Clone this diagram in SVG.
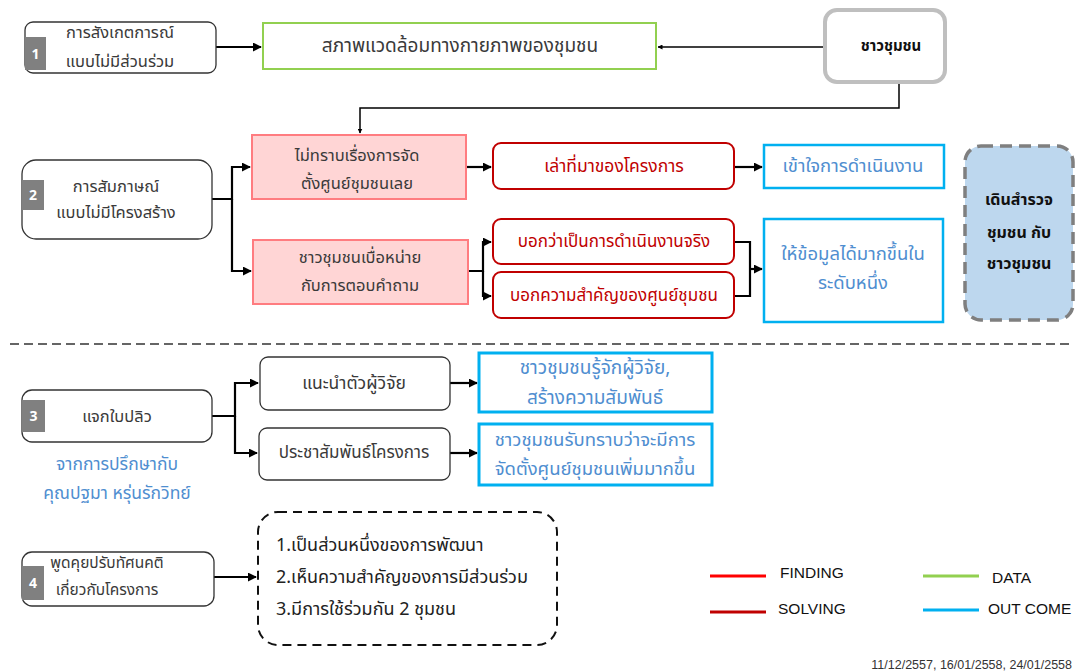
<svg xmlns="http://www.w3.org/2000/svg" width="1078" height="672" viewBox="0 0 1078 672">
<defs>
<marker id="ah" viewBox="0 0 10 10" refX="9" refY="5" markerWidth="5" markerHeight="5" orient="auto" markerUnits="userSpaceOnUse"><path d="M0,0 L10,5 L0,10 z" fill="#000"/></marker>
<marker id="ahb" viewBox="0 0 10 10" refX="9" refY="5" markerWidth="9" markerHeight="9" orient="auto" markerUnits="userSpaceOnUse"><path d="M0,0 L10,5 L0,10 z" fill="#000"/></marker>
<style>
text{font-family:"Noto Sans Thai","Tahoma","DejaVu Sans","Liberation Sans",sans-serif;font-size:16.5px;fill:#3a3a3a;text-anchor:middle;dominant-baseline:central}
.node{fill:#fff;stroke:#333;stroke-width:1.3}
.tab{fill:#808080}
.tabt{fill:#fff;font-weight:bold;font-size:14px}
.pink{fill:#ffd5d5;stroke:#ff7c80;stroke-width:2}
.red{fill:#fff;stroke:#c00000;stroke-width:2}
.redt{fill:#c00000}
.blue{fill:#fff;stroke:#00b0f0;stroke-width:2.5}
.bluet{fill:#4f8ed0;font-size:18.5px}
.c{fill:none;stroke:#000;stroke-width:2.2}
.ct{fill:none;stroke:#000;stroke-width:1.5}
.leg{font-family:"Liberation Sans",sans-serif;font-size:15.5px;fill:#111;text-anchor:start}
.bold{font-weight:bold;fill:#111;font-size:15px}
</style>
</defs>
<g id="connectors">
<path class="c" d="M216,47 H261" marker-end="url(#ahb)"/>
<path class="ct" d="M825,47 H658" marker-end="url(#ah)"/>
<path class="ct" d="M899,82 V108 H360 V133" marker-end="url(#ah)"/>
<path class="c" d="M212,199 H232 V167 H250" marker-end="url(#ahb)"/>
<path class="c" d="M232,199 V271 H251" marker-end="url(#ahb)"/>
<path class="c" d="M466,167 H491" marker-end="url(#ahb)"/>
<path class="c" d="M734,167 H762" marker-end="url(#ahb)"/>
<path class="c" d="M468,271 H483 V242 H491" marker-end="url(#ahb)"/>
<path class="c" d="M483,271 V296 H491" marker-end="url(#ahb)"/>
<path class="c" d="M734,242 H750 V296 H734"/>
<path class="c" d="M750,269 H762" marker-end="url(#ahb)"/>
<path class="c" d="M212,416 H235 V383 H258" marker-end="url(#ahb)"/>
<path class="c" d="M235,416 V453 H257" marker-end="url(#ahb)"/>
<path class="c" d="M450,383 H477" marker-end="url(#ahb)"/>
<path class="c" d="M450,453 H477" marker-end="url(#ahb)"/>
<path class="c" d="M214,577 H256" marker-end="url(#ahb)"/>
</g>
<line x1="10" y1="344" x2="1074" y2="344" stroke="#333" stroke-width="1.3" stroke-dasharray="9,5"/>
<g id="n1">
<rect class="node" x="25" y="22" width="191" height="51" rx="8"/>
<rect class="tab" x="25" y="37" width="21" height="33"/>
<text class="tabt" x="35.5" y="54">1</text>
<text x="120" y="32">การสังเกตการณ์</text>
<text x="120" y="61">แบบไม่มีส่วนร่วม</text>
</g>
<g id="n_env">
<rect x="263" y="23" width="393" height="46" fill="#fff" stroke="#92d050" stroke-width="2"/>
<text x="460" y="46" style="font-size:19px">สภาพแวดล้อมทางกายภาพของชุมชน</text>
</g>
<g id="n_villagers">
<rect x="825" y="10" width="120" height="72" rx="12" fill="#fff" stroke="#bfbfbf" stroke-width="4"/>
<text class="bold" x="891" y="46" style="font-size:15px">ชาวชุมชน</text>
</g>
<g id="n2">
<rect class="node" x="22" y="160" width="190" height="79" rx="14"/>
<rect class="tab" x="22" y="180" width="22" height="30"/>
<text class="tabt" x="33" y="195">2</text>
<text x="116" y="186">การสัมภาษณ์</text>
<text x="116" y="212">แบบไม่มีโครงสร้าง</text>
</g>
<g id="p1">
<rect class="pink" x="252" y="135" width="214" height="64"/>
<text x="357" y="155">ไม่ทราบเรื่องการจัด</text>
<text x="357" y="183">ตั้งศูนย์ชุมชนเลย</text>
</g>
<g id="p2">
<rect class="pink" x="253" y="240" width="215" height="64"/>
<text x="360" y="257">ชาวชุมชนเบื่อหน่าย</text>
<text x="360" y="285">กับการตอบคำถาม</text>
</g>
<g id="r1">
<rect class="red" x="493" y="143" width="241" height="46" rx="8"/>
<text class="redt" x="614" y="166" style="font-size:17.5px">เล่าที่มาของโครงการ</text>
</g>
<g id="r2">
<rect class="red" x="493" y="219" width="241" height="45" rx="8"/>
<text class="redt" x="614" y="242" style="font-size:17px">บอกว่าเป็นการดำเนินงานจริง</text>
</g>
<g id="r3">
<rect class="red" x="493" y="272" width="241" height="46" rx="8"/>
<text class="redt" x="614" y="296" style="font-size:17px">บอกความสำคัญของศูนย์ชุมชน</text>
</g>
<g id="b1">
<rect class="blue" x="764" y="145" width="180" height="43"/>
<text class="bluet" x="853" y="166">เข้าใจการดำเนินงาน</text>
</g>
<g id="b2">
<rect class="blue" x="764" y="219" width="179" height="103"/>
<text class="bluet" x="853" y="254">ให้ข้อมูลได้มากขึ้นใน</text>
<text class="bluet" x="853" y="283">ระดับหนึ่ง</text>
</g>
<g id="survey">
<rect x="965" y="146" width="108" height="174" rx="16" fill="#bdd7ee" stroke="#7f7f7f" stroke-width="3.5" stroke-dasharray="12,7"/>
<text class="bold" x="1019" y="200" style="font-size:16px">เดินสำรวจ</text>
<text class="bold" x="1019" y="233" style="font-size:16px">ชุมชน กับ</text>
<text class="bold" x="1019" y="264" style="font-size:16px">ชาวชุมชน</text>
</g>
<g id="n3">
<rect class="node" x="22" y="390" width="190" height="52" rx="10"/>
<rect class="tab" x="22" y="400" width="23" height="32"/>
<text class="tabt" x="33.5" y="416">3</text>
<text x="117" y="416">แจกใบปลิว</text>
<text class="bluet" x="117" y="464" style="font-size:17.5px">จากการปรึกษากับ</text>
<text class="bluet" x="117" y="493" style="font-size:17.5px">คุณปฐมา หรุ่นรักวิทย์</text>
</g>
<g id="n3a">
<rect class="node" x="260" y="357" width="190" height="53" rx="8"/>
<text x="354" y="383" style="font-size:17.5px">แนะนำตัวผู้วิจัย</text>
</g>
<g id="n3b">
<rect class="node" x="259" y="428" width="191" height="52" rx="8"/>
<text x="354" y="453" style="font-size:17px">ประชาสัมพันธ์โครงการ</text>
</g>
<g id="b3">
<rect class="blue" x="479" y="353" width="233" height="59" style="stroke-width:3"/>
<text class="bluet" x="595" y="368" style="font-size:19px">ชาวชุมชนรู้จักผู้วิจัย,</text>
<text class="bluet" x="595" y="398" style="font-size:19px">สร้างความสัมพันธ์</text>
</g>
<g id="b4">
<rect class="blue" x="479" y="424" width="233" height="61" style="stroke-width:3"/>
<text class="bluet" x="595" y="440">ชาวชุมชนรับทราบว่าจะมีการ</text>
<text class="bluet" x="595" y="469">จัดตั้งศูนย์ชุมชนเพิ่มมากขึ้น</text>
</g>
<g id="n4">
<rect class="node" x="22" y="552" width="192" height="54" rx="10"/>
<rect class="tab" x="22" y="566" width="22" height="34"/>
<text class="tabt" x="33" y="583">4</text>
<text x="107" y="563" style="font-size:15.5px">พูดคุยปรับทัศนคติ</text>
<text x="107" y="590" style="font-size:15.5px">เกี่ยวกับโครงการ</text>
</g>
<g id="n4out">
<rect x="258" y="512" width="299" height="133" rx="20" fill="#fff" stroke="#111" stroke-width="2" stroke-dasharray="9,6"/>
<text x="276" y="545" style="text-anchor:start;font-size:18px;fill:#222">1.เป็นส่วนหนึ่งของการพัฒนา</text>
<text x="276" y="577" style="text-anchor:start;font-size:18px;fill:#222">2.เห็นความสำคัญของการมีส่วนร่วม</text>
<text x="276" y="609" style="text-anchor:start;font-size:18px;fill:#222">3.มีการใช้ร่วมกัน 2 ชุมชน</text>
</g>
<g id="legend">
<line x1="710" y1="576" x2="766" y2="576" stroke="#ff0000" stroke-width="3"/>
<text class="leg" x="780" y="572">FINDING</text>
<line x1="710" y1="612" x2="766" y2="612" stroke="#c00000" stroke-width="3"/>
<text class="leg" x="778" y="608">SOLVING</text>
<line x1="923" y1="576" x2="979" y2="576" stroke="#92d050" stroke-width="3"/>
<text class="leg" x="992" y="577">DATA</text>
<line x1="923" y1="610" x2="979" y2="610" stroke="#00b0f0" stroke-width="3"/>
<text class="leg" x="988" y="608">OUT COME</text>
<text x="1072" y="665" style="font-family:'Liberation Sans',sans-serif;font-size:12.5px;text-anchor:end;fill:#333">11/12/2557, 16/01/2558, 24/01/2558</text>
</g>
</svg>
